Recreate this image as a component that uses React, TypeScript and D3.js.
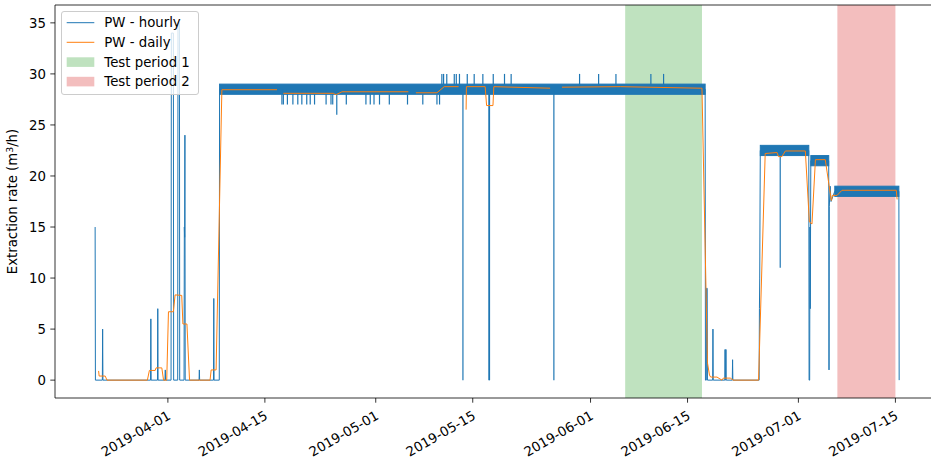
import React from "react";
import * as d3 from "d3";

const parse = d3.utcParse("%Y-%m-%d %H:%M");

// hourly extraction rate (m3/h) - vertices of the hourly line
const hourlyTrace: [string, number][] = [
  ["2019-03-21 12:00", 15], ["2019-03-21 13:00", 0],
  ["2019-03-22 13:00", 0], ["2019-03-22 14:00", 5], ["2019-03-22 15:00", 0],
  ["2019-03-29 12:00", 0], ["2019-03-29 13:00", 6], ["2019-03-29 14:00", 0],
  ["2019-03-30 12:00", 0], ["2019-03-30 13:00", 7], ["2019-03-30 14:00", 0],
  ["2019-03-31 14:00", 0], ["2019-03-31 15:00", 1], ["2019-03-31 16:00", 0],
  ["2019-04-01 11:00", 0], ["2019-04-01 12:00", 34], ["2019-04-01 19:00", 34], ["2019-04-01 20:00", 0],
  ["2019-04-02 10:00", 0], ["2019-04-02 11:00", 35], ["2019-04-02 16:00", 35], ["2019-04-02 17:00", 0],
  ["2019-04-03 08:00", 0], ["2019-04-03 09:00", 15], ["2019-04-03 10:00", 14], ["2019-04-03 11:00", 24], ["2019-04-03 12:00", 0],
  ["2019-04-05 12:00", 0], ["2019-04-05 13:00", 1], ["2019-04-05 14:00", 0],
  ["2019-04-07 14:00", 0], ["2019-04-07 15:00", 8], ["2019-04-07 16:00", 0],
  ["2019-04-08 10:00", 0], ["2019-04-08 11:00", 28.5],
  ["2019-06-17 13:00", 28.5], ["2019-06-17 14:00", 0],
  ["2019-06-17 17:00", 0], ["2019-06-17 18:00", 9], ["2019-06-17 20:00", 9], ["2019-06-17 21:00", 0],
  ["2019-06-18 15:00", 0], ["2019-06-18 16:00", 5], ["2019-06-18 17:00", 0],
  ["2019-06-20 09:00", 0], ["2019-06-20 10:00", 3], ["2019-06-20 11:00", 0],
  ["2019-06-20 12:00", 0], ["2019-06-20 13:00", 3], ["2019-06-20 14:00", 0],
  ["2019-06-21 11:00", 0], ["2019-06-21 12:00", 2], ["2019-06-21 13:00", 0],
  ["2019-06-25 08:00", 0], ["2019-06-25 09:00", 7], ["2019-06-25 10:00", 10], ["2019-06-25 12:00", 22.5],
  ["2019-07-02 12:00", 22.5], ["2019-07-02 13:00", 0], ["2019-07-02 15:00", 0],
  ["2019-07-02 16:00", 15], ["2019-07-02 17:00", 7], ["2019-07-02 19:00", 21.5],
  ["2019-07-05 09:00", 21.5], ["2019-07-05 10:00", 1], ["2019-07-05 11:00", 17],
  ["2019-07-05 14:00", 19], ["2019-07-05 17:00", 17.5], ["2019-07-06 06:00", 18.5],
  ["2019-07-15 12:00", 18.5], ["2019-07-15 13:00", 0],
];

// steady pumping: hourly value flickers between lo and hi
const hourlyBands: [string, string, number, number][] = [
  ["2019-04-08 11:00", "2019-06-17 13:00", 28, 29],
  ["2019-06-25 12:00", "2019-07-02 12:00", 22, 23],
  ["2019-07-02 19:00", "2019-07-05 09:00", 21, 22],
  ["2019-07-06 06:00", "2019-07-15 12:00", 18, 19],
];

// single hours leaving the steady band
const hourlySpikes: [string, number][] = [
  ["2019-04-17 11:00", 27], ["2019-04-17 16:00", 27], ["2019-04-18 06:00", 27],
  ["2019-04-19 01:00", 27], ["2019-04-19 18:00", 27], ["2019-04-20 08:00", 27],
  ["2019-04-21 01:00", 27], ["2019-04-21 13:00", 27], ["2019-04-22 04:00", 27],
  ["2019-04-23 20:00", 27], ["2019-04-24 13:00", 27], ["2019-04-24 19:00", 27],
  ["2019-04-25 09:00", 26], ["2019-04-26 18:00", 27], ["2019-04-29 14:00", 27],
  ["2019-04-30 05:00", 27], ["2019-04-30 18:00", 27], ["2019-05-01 13:00", 27],
  ["2019-05-02 23:00", 27], ["2019-05-05 14:00", 27], ["2019-05-07 19:00", 27],
  ["2019-05-09 20:00", 27], ["2019-05-10 05:00", 27],
  ["2019-05-10 13:00", 30], ["2019-05-10 19:00", 30], ["2019-05-11 06:00", 30],
  ["2019-05-12 08:00", 30], ["2019-05-12 15:00", 30], ["2019-05-13 02:00", 30],
  ["2019-05-14 05:00", 30], ["2019-05-15 05:00", 30], ["2019-05-16 11:00", 30],
  ["2019-05-17 23:00", 30], ["2019-05-19 14:00", 30], ["2019-05-20 13:00", 30],
  ["2019-05-30 10:00", 30], ["2019-06-02 04:00", 30], ["2019-06-04 16:00", 30],
  ["2019-06-09 17:00", 30], ["2019-06-11 13:00", 30],
  ["2019-05-13 14:00", 0], ["2019-05-17 08:00", 0], ["2019-05-17 10:00", 0],
  ["2019-05-26 17:00", 0], ["2019-06-28 09:00", 11],
];

// daily extraction rate, null = no value
const dailyTrace: ([string, number] | null)[] = [
  ["2019-03-22 00:00", 0.9], ["2019-03-22 02:00", 0.4], ["2019-03-22 23:00", 0.4],
  ["2019-03-23 05:00", 0], ["2019-03-29 01:00", 0], ["2019-03-29 08:00", 0.95],
  ["2019-03-30 04:00", 0.95], ["2019-03-30 07:00", 1.2], ["2019-03-31 03:00", 1.2],
  ["2019-03-31 09:00", 0], ["2019-03-31 20:00", 0], ["2019-04-01 02:00", 6.7],
  ["2019-04-01 19:00", 6.7], ["2019-04-02 01:00", 8.35], ["2019-04-03 00:00", 8.3],
  ["2019-04-03 04:00", 5.5], ["2019-04-03 18:00", 5.5], ["2019-04-04 03:00", 0],
  ["2019-04-07 02:00", 0], ["2019-04-07 06:00", 1.0], ["2019-04-07 23:00", 1.0],
  ["2019-04-08 19:00", 28.45], ["2019-04-16 18:00", 28.45],
  null,
  ["2019-04-17 16:00", 28.1], ["2019-04-24 21:00", 28.1], ["2019-04-25 03:00", 28.0],
  ["2019-04-25 09:00", 28.0], ["2019-04-26 03:00", 28.25], ["2019-05-05 17:00", 28.25],
  null,
  ["2019-05-06 19:00", 28.15], ["2019-05-09 20:00", 28.15], ["2019-05-10 21:00", 28.75],
  ["2019-05-12 23:00", 28.75],
  null,
  ["2019-05-14 01:00", 26.5], ["2019-05-14 02:00", 28.75], ["2019-05-16 19:00", 28.75],
  ["2019-05-17 00:00", 26.9], ["2019-05-17 22:00", 26.9], ["2019-05-18 01:00", 28.75],
  ["2019-05-26 04:00", 28.6],
  null,
  ["2019-05-27 21:00", 28.7], ["2019-06-05 07:00", 28.75], ["2019-06-16 21:00", 28.6],
  ["2019-06-17 02:00", 28.6], ["2019-06-17 21:00", 1.7], ["2019-06-18 04:00", 0.5],
  ["2019-06-18 08:00", 0.3], ["2019-06-19 06:00", 0.3], ["2019-06-19 23:00", 0],
  ["2019-06-20 04:00", 0.2], ["2019-06-21 04:00", 0.2], ["2019-06-21 14:00", 0],
  ["2019-06-25 06:00", 0], ["2019-06-26 05:00", 22.2], ["2019-06-27 22:00", 22.3],
  ["2019-06-28 03:00", 21.9], ["2019-06-28 15:00", 21.9], ["2019-06-29 03:00", 22.45],
  ["2019-07-02 00:00", 22.45], ["2019-07-02 14:00", 15.5], ["2019-07-02 23:00", 15.3],
  ["2019-07-03 11:00", 21.6], ["2019-07-04 21:00", 21.6], ["2019-07-05 18:00", 17.6],
  ["2019-07-05 22:00", 18.1], ["2019-07-06 14:00", 18.1], ["2019-07-07 07:00", 18.6],
  ["2019-07-15 03:00", 18.6], ["2019-07-15 06:00", 17.7],
];

const testPeriods = [
  { label: "Test period 1", start: "2019-06-06 00:00", end: "2019-06-17 02:00", color: "#2ca02c" },
  { label: "Test period 2", start: "2019-07-06 15:00", end: "2019-07-15 00:00", color: "#d62728" },
];

const xTicks = ["2019-04-01", "2019-04-15", "2019-05-01", "2019-05-15", "2019-06-01", "2019-06-15", "2019-07-01", "2019-07-15"];
const yTicks = [0, 5, 10, 15, 20, 25, 30, 35];

const BLUE = "#1f77b4";
const ORANGE = "#ff7f0e";
const FONT = "DejaVu Sans, sans-serif";

export default function App() {
  const W = 931, H = 462;
  const left = 55, top = 5, bottom = 398, right = 939;

  const x = d3.scaleUtc()
    .domain([parse("2019-03-15 17:00")!, parse("2019-07-21 07:00")!])
    .range([left, right]);
  const y = d3.scaleLinear().domain([-1.75, 36.75]).range([bottom, top]);

  const line = d3.line<[string, number]>()
    .x(d => x(parse(d[0])!))
    .y(d => y(d[1]));

  const dailyLine = d3.line<[string, number] | null>()
    .defined(d => d !== null)
    .x(d => x(parse(d![0])!))
    .y(d => y(d![1]));

  // base level of a spike: middle of the nearest steady band
  const spikeBase = (t: Date) => {
    const b = d3.least(hourlyBands, bd => {
      const s = parse(bd[0])!.getTime(), e = parse(bd[1])!.getTime(), v = t.getTime();
      return v < s ? s - v : v > e ? v - e : 0;
    })!;
    return (b[2] + b[3]) / 2;
  };

  const fs = 13.3;

  return (
    <svg width={W} height={H} style={{ position: "absolute", left: 0, top: 0, background: "#fff" }}
      fontFamily={FONT}>
      <defs>
        <clipPath id="plot">
          <rect x={left} y={top} width={right - left} height={bottom - top} />
        </clipPath>
      </defs>
      <g clipPath="url(#plot)">
        {testPeriods.map(p => (
          <rect key={p.label} x={x(parse(p.start)!)} y={top}
            width={x(parse(p.end)!) - x(parse(p.start)!)} height={bottom - top}
            fill={p.color} fillOpacity={0.3} />
        ))}
        <path d={line(hourlyTrace)!} fill="none" stroke={BLUE} strokeWidth={1} strokeLinejoin="round" />
        {hourlyBands.map((b, i) => (
          <rect key={i} x={x(parse(b[0])!)} y={y(b[3])}
            width={x(parse(b[1])!) - x(parse(b[0])!)} height={y(b[2]) - y(b[3])}
            fill={BLUE} stroke={BLUE} strokeWidth={1} />
        ))}
        {hourlySpikes.map((s, i) => {
          const t = parse(s[0])!;
          return (
            <line key={i} x1={x(t)} x2={x(t)} y1={y(spikeBase(t))} y2={y(s[1])}
              stroke={BLUE} strokeWidth={1.2} />
          );
        })}
        <path d={dailyLine(dailyTrace)!} fill="none" stroke={ORANGE} strokeWidth={1} strokeLinejoin="round" />
      </g>

      {/* axes frame */}
      <path d={`M${left},${bottom}V${top}H${right}M${left},${bottom}H${right}`}
        fill="none" stroke="#000" strokeWidth={0.8} />

      {yTicks.map(v => (
        <g key={v} transform={`translate(0,${y(v)})`}>
          <line x1={left - 4.7} x2={left} stroke="#000" strokeWidth={0.8} />
          <text x={left - 9} dy="0.35em" textAnchor="end" fontSize={fs}>{v}</text>
        </g>
      ))}

      {xTicks.map(t => {
        const px = x(parse(t + " 00:00")!);
        return (
          <g key={t}>
            <line x1={px} x2={px} y1={bottom} y2={bottom + 4.7} stroke="#000" strokeWidth={0.8} />
            <text transform={`translate(${px - 1},${bottom + 12}) rotate(-30)`} textAnchor="end"
              dy="0.72em" fontSize={fs}>{t}</text>
          </g>
        );
      })}

      <text transform={`translate(17,${(top + bottom) / 2}) rotate(-90)`} textAnchor="middle"
        fontSize={fs}>
        Extraction rate (m<tspan fontSize={fs * 0.7} dy="-0.45em">3</tspan><tspan dy="0.3em">/h)</tspan>
      </text>

      {/* legend */}
      <g>
        <rect x={61.5} y={11.5} width={137} height={83} rx={2.5} fill="#fff" fillOpacity={0.8}
          stroke="#cccccc" strokeWidth={1} />
        <line x1={66.7} x2={94.3} y1={22.7} y2={22.7} stroke={BLUE} strokeWidth={1} />
        <text x={104.3} y={22.7} dy="0.36em" fontSize={fs}>PW - hourly</text>
        <line x1={66.7} x2={94.3} y1={42.3} y2={42.3} stroke={ORANGE} strokeWidth={1} />
        <text x={104.3} y={42.3} dy="0.36em" fontSize={fs}>PW - daily</text>
        {testPeriods.map((p, i) => (
          <g key={p.label}>
            <rect x={66.7} y={57.3 + i * 19.5} width={27.6} height={9.6} fill={p.color} fillOpacity={0.3} />
            <text x={104.3} y={62 + i * 19.5} dy="0.36em" fontSize={fs}>{p.label}</text>
          </g>
        ))}
      </g>
    </svg>
  );
}
